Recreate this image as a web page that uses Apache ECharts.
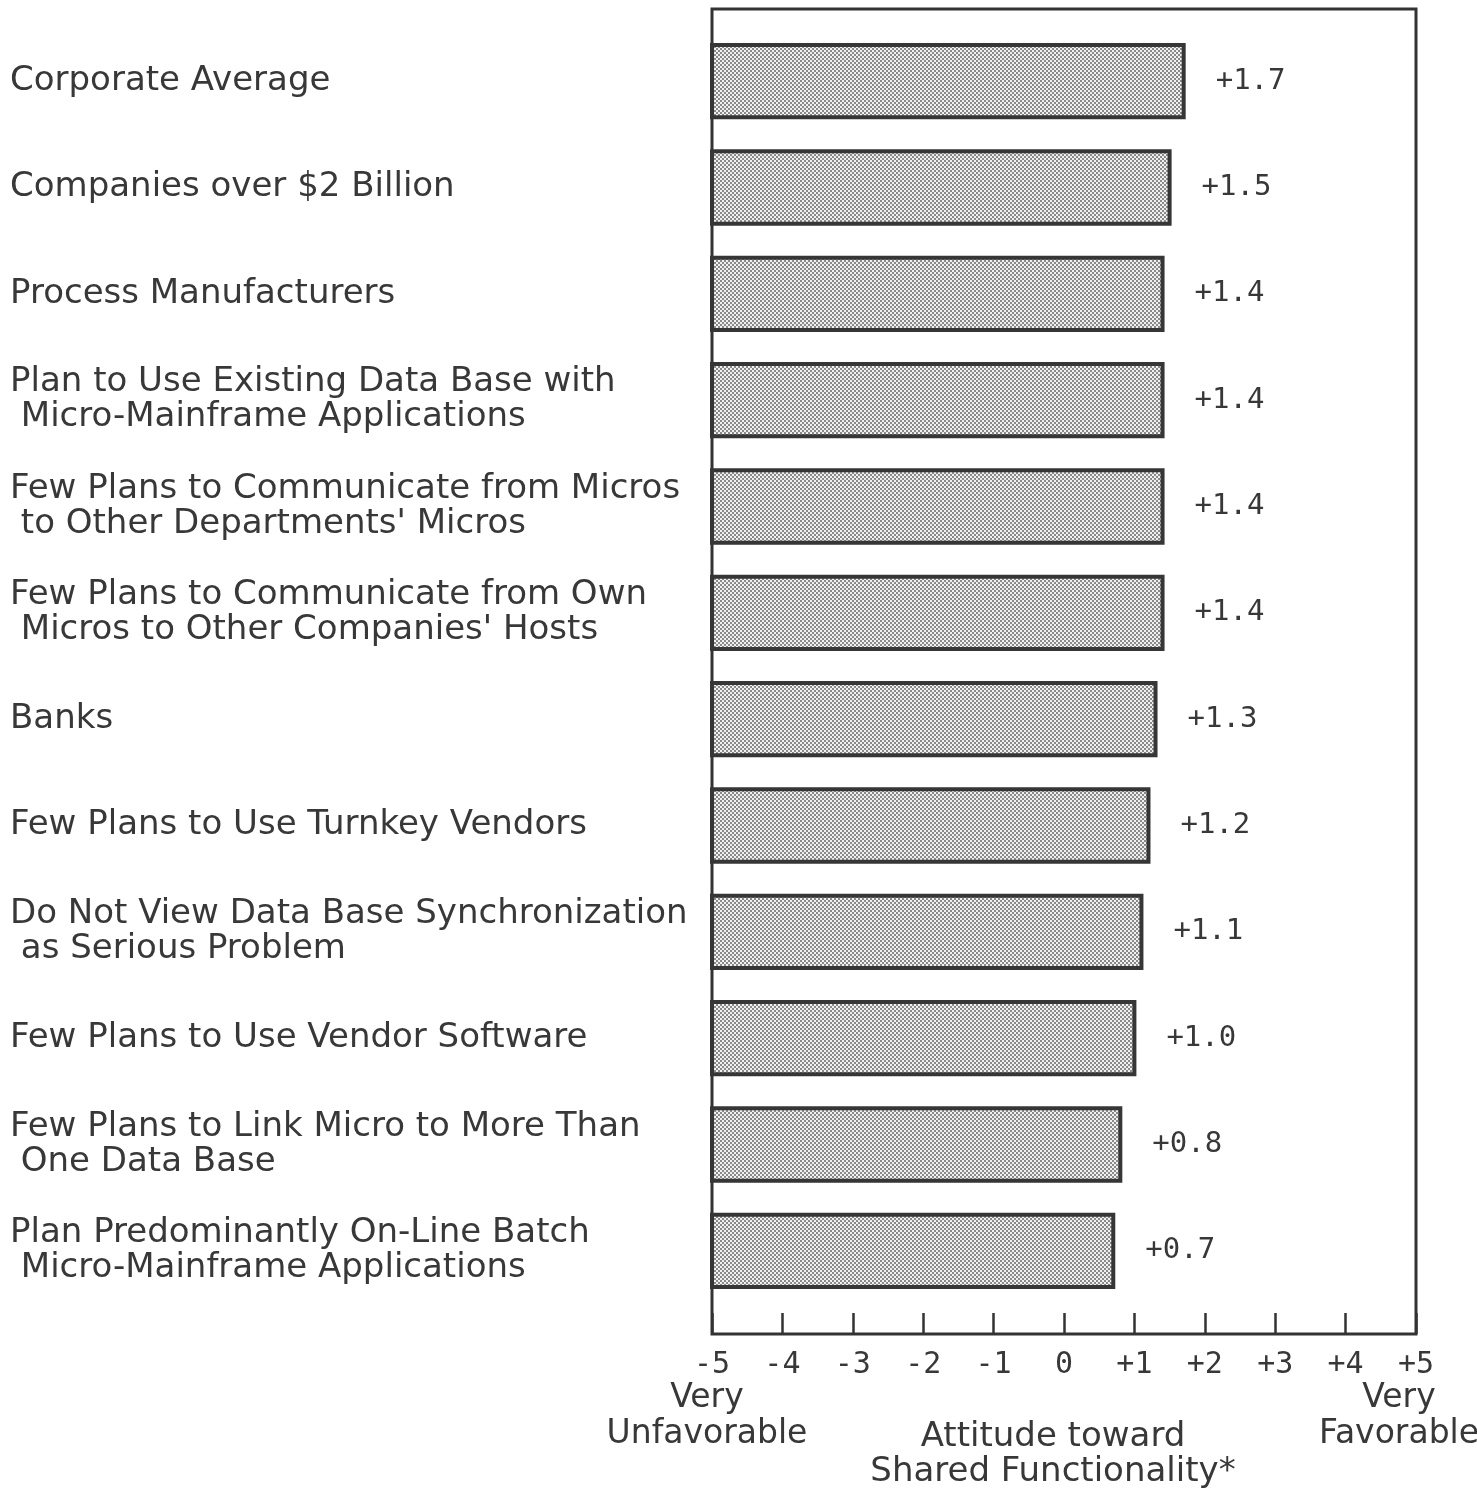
<!DOCTYPE html>
<html>
<head>
<meta charset="utf-8">
<script src="https://cdn.jsdelivr.net/npm/echarts@6/dist/echarts.min.js"></script>
<style>
html,body{margin:0;padding:0;background:#ffffff;}
#chart{width:1477px;height:1490px;}
</style>
</head>
<body>
<div id="chart"></div>
<script>
const categories = [
  'Corporate Average',
  'Companies over $2 Billion',
  'Process Manufacturers',
  'Plan to Use Existing Data Base with\n Micro-Mainframe Applications',
  'Few Plans to Communicate from Micros\n to Other Departments\' Micros',
  'Few Plans to Communicate from Own\n Micros to Other Companies\' Hosts',
  'Banks',
  'Few Plans to Use Turnkey Vendors',
  'Do Not View Data Base Synchronization\n as Serious Problem',
  'Few Plans to Use Vendor Software',
  'Few Plans to Link Micro to More Than\n One Data Base',
  'Plan Predominantly On-Line Batch\n Micro-Mainframe Applications'
];
const values = [1.7, 1.5, 1.4, 1.4, 1.4, 1.4, 1.3, 1.2, 1.1, 1.0, 0.8, 0.7];
const tickLabels = ['-5', '-4', '-3', '-2', '-1', '0', '+1', '+2', '+3', '+4', '+5'];
const scaleMin = -5;
const scaleMax = 5;
const minCaption = ['Very', 'Unfavorable'];
const maxCaption = ['Very', 'Favorable'];
const axisTitle = 'Attitude toward\nShared Functionality*';

// stipple pattern for bar fill
const pc = document.createElement('canvas');
pc.width = 4; pc.height = 4;
const pctx = pc.getContext('2d');
pctx.fillStyle = '#f0f0f0';
pctx.fillRect(0, 0, 4, 4);
pctx.fillStyle = '#8a8a8a';
pctx.fillRect(0, 0, 2, 2);
pctx.fillRect(2, 2, 2, 2);
const stipple = { image: pc, repeat: 'repeat' };

const textColor = '#383838';
const chart = echarts.init(document.getElementById('chart'));

const option = {
  backgroundColor: '#ffffff',
  animation: false,
  grid: [
    { left: 712, right: 61, top: 28, bottom: 186, outerBoundsMode: 'none', containLabel: false },
    { left: 712, right: 61, top: 9, bottom: 156, outerBoundsMode: 'none', containLabel: false,
      show: true, borderColor: '#333333', borderWidth: 3, backgroundColor: 'transparent' }
  ],
  xAxis: [
    { gridIndex: 0, type: 'value', min: scaleMin, max: scaleMax, show: false },
    {
      gridIndex: 1, type: 'value', min: scaleMin, max: scaleMax, interval: 1, position: 'bottom',
      axisLine: { show: false },
      splitLine: { show: false },
      axisTick: { show: true, inside: true, length: 21, lineStyle: { color: '#333333', width: 2.5 } },
      axisLabel: {
        margin: 16,
        color: textColor,
        fontFamily: 'DejaVu Sans Mono',
        fontSize: 30,
        showMinLabel: true,
        showMaxLabel: true,
        hideOverlap: false,
        formatter: function (v) {
          return tickLabels[Math.round(v - scaleMin)];
        }
      },
      name: axisTitle,
      nameLocation: 'middle',
      nameGap: 86,
      nameMoveOverlap: false,
      nameTextStyle: { fontFamily: 'DejaVu Sans', fontSize: 34, lineHeight: 35, color: textColor, padding: [0, 22, 0, 0] }
    },
    {
      gridIndex: 1, type: 'value', min: scaleMin, max: scaleMax, interval: scaleMax - scaleMin, position: 'bottom',
      axisLine: { show: false }, axisTick: { show: false }, splitLine: { show: false },
      axisLabel: {
        margin: 46,
        showMinLabel: true,
        showMaxLabel: true,
        hideOverlap: false,
        color: textColor,
        fontFamily: 'DejaVu Sans',
        fontSize: 33,
        lineHeight: 36,
        formatter: function (v) {
          const cap = v === scaleMin ? minCaption : maxCaption;
          const st = v === scaleMin ? 'l' : 'r';
          return cap.map(s => '{' + st + '|' + s + '}').join('\n');
        },
        rich: {
          l: { fontFamily: 'DejaVu Sans', fontSize: 33, lineHeight: 36, color: textColor, padding: [0, 10, 0, 0] },
          r: { fontFamily: 'DejaVu Sans', fontSize: 33, lineHeight: 36, color: textColor, padding: [0, 34, 0, 0] }
        }
      }
    }
  ],
  yAxis: [
    {
      gridIndex: 0, type: 'category', data: categories, inverse: true,
      axisLine: { show: false }, axisTick: { show: false }, splitLine: { show: false },
      axisLabel: {
        interval: 0,
        align: 'left',
        margin: 702,
        fontFamily: 'DejaVu Sans',
        fontSize: 34,
        lineHeight: 35,
        color: textColor
      }
    },
    { gridIndex: 1, type: 'value', min: 0, max: 1, show: false }
  ],
  series: [
    {
      type: 'custom',
      xAxisIndex: 0,
      yAxisIndex: 0,
      data: values.map((v, i) => [v, i]),
      encode: { x: 0, y: 1 },
      renderItem: function (params, api) {
        const v = api.value(0);
        const idx = api.value(1);
        const start = api.coord([scaleMin, idx]);
        const end = api.coord([v, idx]);
        const h = api.size([0, 1])[1] * 0.68;
        return {
          type: 'group',
          children: [
            {
              type: 'rect',
              shape: { x: start[0], y: start[1] - h / 2, width: end[0] - start[0], height: h },
              style: { fill: stipple, stroke: '#363636', lineWidth: 4 }
            },
            {
              type: 'text',
              style: {
                x: end[0] + 32, y: end[1],
                text: '+' + v.toFixed(1),
                fontFamily: 'DejaVu Sans Mono',
                fontSize: 29,
                fill: textColor,
                verticalAlign: 'middle',
                align: 'left'
              }
            }
          ]
        };
      }
    }
  ]
};
chart.setOption(option);
</script>
</body>
</html>
